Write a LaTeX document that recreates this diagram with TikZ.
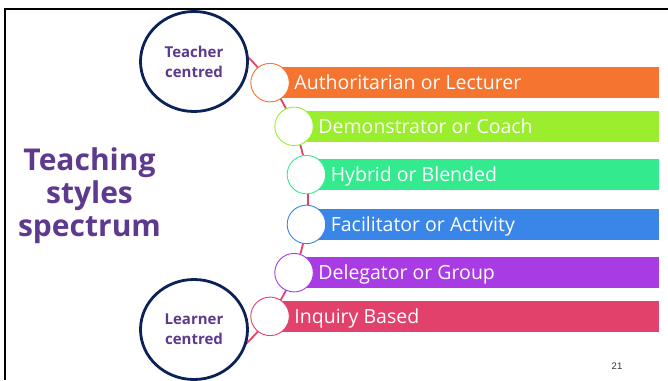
\documentclass[tikz,border=0pt]{standalone}
\usepackage{fontspec}
\setmainfont{Open Sans}
\newfontfamily\numfont{Liberation Sans}
\usetikzlibrary{calc,shapes.geometric}
\definecolor{navy}{HTML}{0B2258}
\definecolor{ink}{HTML}{5D3A8E}
\definecolor{arcpink}{HTML}{E2416C}
\definecolor{sorange}{HTML}{F47430}
\definecolor{slime}{HTML}{9AEE2E}
\definecolor{sgreen}{HTML}{34EA8F}
\definecolor{sblue}{HTML}{3A85E8}
\definecolor{spurple}{HTML}{A93BE4}
\definecolor{spink}{HTML}{E2416C}

\begin{document}
\begin{tikzpicture}[x=1pt,y=1pt,
  ring/.style={ellipse,draw=navy,line width=2.8pt,fill=white,minimum width=107pt,minimum height=100pt,inner sep=0pt,align=center,text=ink,font=\bfseries\fontsize{15}{20}\selectfont},
  dot/.style={circle,fill=white,line width=0.9pt,minimum size=38.5pt,inner sep=0pt},
  bartext/.style={anchor=west,text=white,text height=13.5pt,text depth=0pt,inner sep=0pt,font=\fontsize{19.5}{22}\selectfont}]
\useasboundingbox (0,0) rectangle (668,380);
\draw[line width=2.3pt] (5.3,0) -- (5.3,370.8) -- (668,370.8);
\coordinate (hub) at (109.2,180.5);
\coordinate (edge) at (659,0);
\draw[arcpink,line width=1.8pt] ($(hub)+(55:198.8)$) arc[start angle=55,end angle=-55,radius=198.8];

\node[ring] (teacher) at (194,318.5) {Teacher\\centred};
\node[ring] (learner) at (194,50.5) {Learner\\centred};

\foreach \i/\col/\txt [count=\k from 0] in {1/sorange/Authoritarian or Lecturer,2/slime/Demonstrator or Coach,3/sgreen/Hybrid or Blended,4/sblue/Facilitator or Activity,5/spurple/Delegator or Group,6/spink/Inquiry Based} {
  \coordinate (p\i) at ($(hub)+({36-14.4*\k}:198.8)$);
  \fill[\col] ($(p\i)+(0,15.5)$) rectangle ($(p\i -| edge)+(0,-15.5)$);
  \node[dot,draw=\col] (c\i) at (p\i) {};
  \node[bartext] (t\i) at ($(c\i.east)+(4.5,0)$) {\txt};
}

\node[align=center,text=ink,font=\bfseries\fontsize{30}{33}\selectfont] (title) at (89.5,184) {Teaching\\styles\\spectrum};
\node[text=black!80,font=\numfont\fontsize{9.5}{10}\selectfont] (page) at (617,14) {21};
\end{tikzpicture}
\end{document}
